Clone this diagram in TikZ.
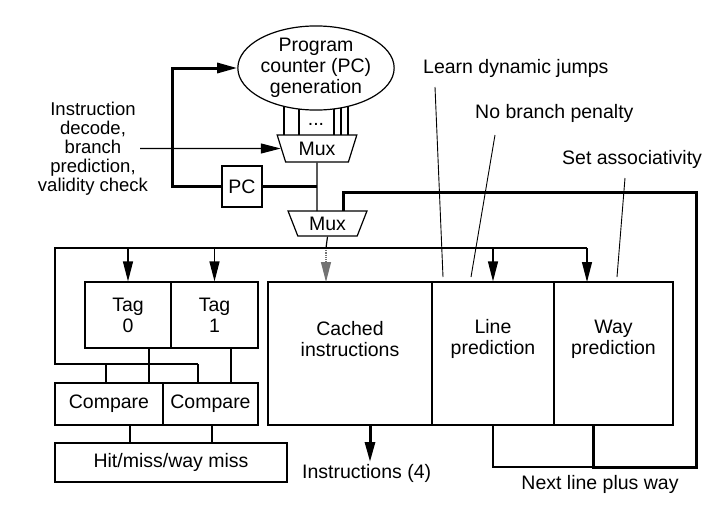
\documentclass[tikz,border=0pt]{standalone}
\usepackage{fontspec}
\setmainfont{Liberation Sans}
\usepackage{tikz}
\usetikzlibrary{positioning}
\usetikzlibrary{shapes.geometric}
\usetikzlibrary{arrows.meta}
\pgfdeclarelayer{nodelayer}
\pgfdeclarelayer{edgelayer}
\pgfsetlayers{nodelayer,edgelayer,main}
\tikzset{
    none/.style = {inner sep=0pt},
    txt/.style = {inner sep=0pt, align=center, font=\fontsize{19.5}{21}\selectfont},
    box/.style = {draw, line width=1.2pt, inner sep=0pt},
    mux/.style = {draw, line width=1.2pt, inner sep=0pt, trapezium, shape border rotate=180,
        trapezium stretches=true, font=\fontsize{19.5}{21}\selectfont},
    wire/.style = {line width=1.2pt},
    note/.style = {line width=0.9pt},
    bus/.style = {line width=3pt},
    halfbus/.style = {line width=2.2pt}
}
\begin{document}
\begin{tikzpicture}[x=1pt, y=-1pt]
    % Set larger arrow size globally
    \tikzset{>={Triangle[length=20pt, width=10pt]}}
    \useasboundingbox (0, 0) rectangle (723, 506);
    \begin{pgfonlayer}{nodelayer}
        \node [ellipse, draw, line width=1.2pt, minimum width=148, minimum height=84, style=txt] (pcgen) at (316, 68) {Program\\counter (PC)\\generation};
        \node [style=mux, minimum width=80, minimum height=27, trapezium angle=70] (mux1) at (317, 148.5) {Mux};
        \node [style=mux, minimum width=79, minimum height=25, trapezium angle=66] (mux2) at (327.5, 223.5) {Mux};
        \node [style=box, style=txt, minimum width=40, minimum height=41] (pc) at (242, 186.5) {PC};
        \node [style=txt] (dots) at (316, 124) {...};
        \node [style=txt, font=\fontsize{18.5}{19}\selectfont] (decode) at (93, 149) {Instruction\\decode,\\branch\\prediction,\\validity check};
        \node [style=box, style=txt, minimum width=86, minimum height=66] (tag0) at (128, 315) {Tag\\0};
        \node [style=box, style=txt, minimum width=87, minimum height=66] (tag1) at (214.5, 315) {Tag\\1};
        \node [style=box, style=txt, minimum width=108, minimum height=42] (cmp0) at (109, 404) {Compare};
        \node [style=box, style=txt, minimum width=95, minimum height=42] (cmp1) at (210.5, 404) {Compare};
        \node [style=box, style=txt, minimum width=232, minimum height=39] (hit) at (171, 462.5) {Hit/miss/way miss};
        \node [style=box, minimum width=164, minimum height=143] (cache) at (350, 353.5) {};
        \node [style=box, minimum width=122, minimum height=143] (line) at (493, 353.5) {};
        \node [style=box, minimum width=119, minimum height=143] (way) at (613.5, 353.5) {};
        \node [style=txt] (cachetxt) at (350, 339) {Cached\\instructions};
        \node [style=txt] (linetxt) at (493, 339) {Line\\prediction};
        \node [style=txt] (waytxt) at (613.5, 339) {Way\\prediction};
        \node [style=txt, anchor=west] (learn) at (423, 68) {Learn dynamic jumps};
        \node [style=txt, anchor=west] (nopen) at (475, 113) {No branch penalty};
        \node [style=txt, anchor=west] (setas) at (562, 159) {Set associativity};
        \node [style=txt, anchor=west] (instr) at (302, 473) {Instructions (4)};
        \node [style=txt] (next) at (600, 484) {Next line plus way};
        \node [style=none] (0) at (172, 186.5) {};
        \node [style=none] (1) at (172, 68) {};
        \node [style=none] (2) at (317, 186.5) {};
        \node [style=none] (3) at (317, 211) {};
        \node [style=none] (4) at (140, 148.5) {};
        \node [style=none] (6) at (284, 106) {};
        \node [style=none] (7) at (299, 109) {};
        \node [style=none] (8) at (334, 109) {};
        \node [style=none] (9) at (341, 107.5) {};
        \node [style=none] (10) at (348, 106) {};
        \node [style=none] (11) at (284, 135) {};
        \node [style=none] (12) at (299, 135) {};
        \node [style=none] (13) at (334, 135) {};
        \node [style=none] (14) at (341, 135) {};
        \node [style=none] (15) at (348, 135) {};
        \node [style=none] (16) at (343, 211) {};
        \node [style=none] (17) at (343, 192) {};
        \node [style=none] (18) at (696, 192) {};
        \node [style=none] (19) at (696, 467) {};
        \node [style=none] (20) at (593, 467) {};
        \node [style=none] (21) at (493, 467) {};
        \node [style=none] (22) at (593, 425) {};
        \node [style=none] (24) at (326, 248) {};
        \node [style=none] (25) at (326, 282) {};
        \node [style=none] (26) at (587, 248) {};
        \node [style=none] (27) at (55, 248) {};
        \node [style=none] (28) at (55, 364) {};
        \node [style=none] (29) at (198, 364) {};
        \node [style=none] (30) at (128, 248) {};
        \node [style=none] (31) at (214.5, 248) {};
        \node [style=none] (32) at (493, 248) {};
        \node [style=none] (33) at (587, 282) {};
        \node [style=none] (34) at (106, 364) {};
        \node [style=none] (35) at (106, 383) {};
        \node [style=none] (36) at (198, 383) {};
        \node [style=none] (37) at (149, 348) {};
        \node [style=none] (38) at (149, 383) {};
        \node [style=none] (39) at (231, 348) {};
        \node [style=none] (40) at (231, 383) {};
        \node [style=none] (41) at (130, 425) {};
        \node [style=none] (42) at (130, 443) {};
        \node [style=none] (43) at (212, 425) {};
        \node [style=none] (44) at (212, 443) {};
        \node [style=none] (45) at (370, 425) {};
        \node [style=none] (46) at (370, 462) {};
        \node [style=none] (47) at (435, 87) {};
        \node [style=none] (48) at (443, 277) {};
        \node [style=none] (49) at (495, 135) {};
        \node [style=none] (50) at (471, 277) {};
        \node [style=none] (51) at (625, 178) {};
        \node [style=none] (52) at (617, 277) {};
    \end{pgfonlayer}
    \begin{pgfonlayer}{edgelayer}
        % PC feedback and mux chain
        \draw [->, bus] (pc.west) to (0.center) to (1.center) to (pcgen.west);
        \draw [bus] (pc.east) to (2.center);
        \draw [wire] (mux1.south) to (3.center);
        \draw [->, wire] (4.center) to (mux1.west);
        \draw [wire] (6.center) to (11.center);
        \draw [wire] (7.center) to (12.center);
        \draw [wire] (8.center) to (13.center);
        \draw [wire] (9.center) to (14.center);
        \draw [wire] (10.center) to (15.center);
        % next line plus way loop
        \draw [halfbus] (line.south) to (21.center) to (20.center);
        \draw [bus] (22.center) to (20.center) to (19.center) to (18.center) to (17.center) to (16.center);
        % fetch address bus
        \draw [wire] (mux2.south) to (24.center);
        \draw [->, wire, densely dotted, black!55] (24.center) to (25.center);
        \draw [wire] (26.center) to (27.center) to (28.center) to (29.center);
        \draw [->, wire] (30.center) to (tag0.north);
        \draw [->, wire] (31.center) to (tag1.north);
        \draw [->, wire] (32.center) to (line.north);
        \draw [->, wire] (26.center) to (33.center);
        \draw [wire] (34.center) to (35.center);
        \draw [wire] (29.center) to (36.center);
        \draw [wire] (37.center) to (38.center);
        \draw [wire] (39.center) to (40.center);
        \draw [wire] (41.center) to (42.center);
        \draw [wire] (43.center) to (44.center);
        \draw [->, bus] (45.center) to (46.center);
        % annotations
        \draw [note] (47.center) to (48.center);
        \draw [note] (49.center) to (50.center);
        \draw [note] (51.center) to (52.center);
    \end{pgfonlayer}
\end{tikzpicture}
\end{document}
